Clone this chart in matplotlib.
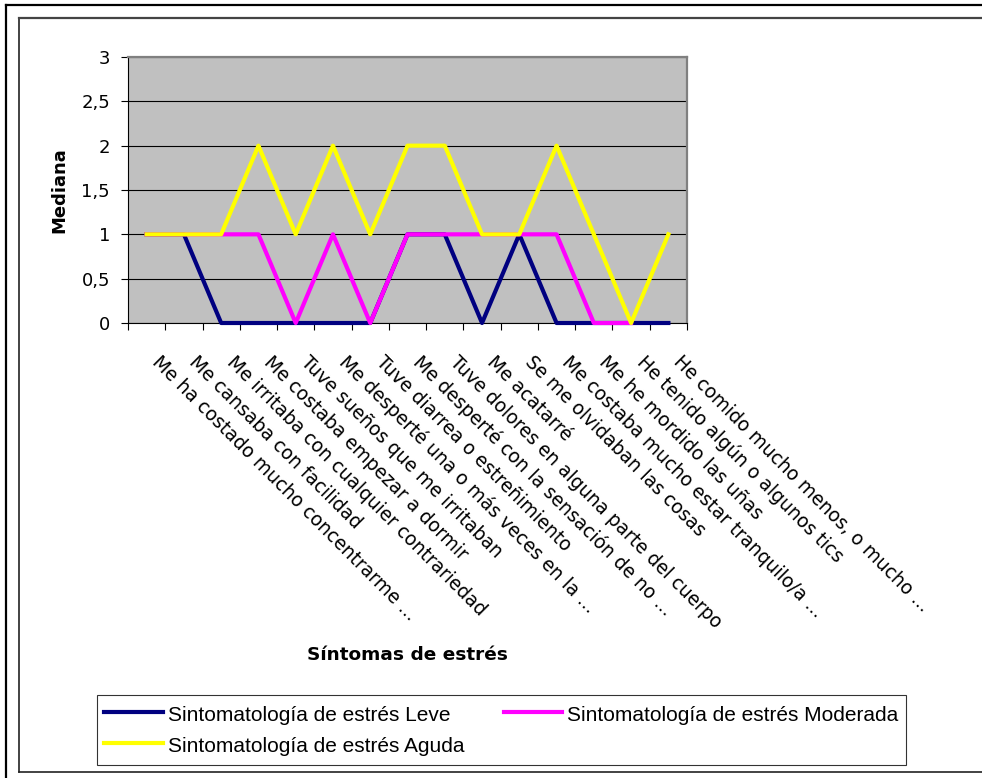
import numpy as np
import matplotlib
matplotlib.use("Agg")
import matplotlib.pyplot as plt
from matplotlib.lines import Line2D
from matplotlib import transforms

categories = [
    "Me ha costado mucho concentrarme ...",
    "Me cansaba con facilidad",
    "Me irritaba con cualquier contrariedad",
    "Me costaba empezar a dormir",
    "Tuve sueños que me irritaban",
    "Me desperté una o más veces en la ...",
    "Tuve diarrea o estreñimiento",
    "Me desperté con la sensación de no ...",
    "Tuve dolores en alguna parte del cuerpo",
    "Me acatarré",
    "Se me olvidaban las cosas",
    "Me costaba mucho estar tranquilo/a ...",
    "Me he mordido las uñas",
    "He tenido algún o algunos tics",
    "He comido mucho menos, o mucho ...",
]
leve = [1, 1, 0, 0, 0, 0, 0, 1, 1, 0, 1, 0, 0, 0, 0]
moderada = [1, 1, 1, 1, 0, 1, 0, 1, 1, 1, 1, 1, 0, 0, np.nan]
aguda = [1, 1, 1, 2, 1, 2, 1, 2, 2, 1, 1, 2, 1, 0, 1]
series_names = ["Sintomatología de estrés Leve",
                "Sintomatología de estrés Moderada",
                "Sintomatología de estrés Aguda"]
y_ticks = [0, 0.5, 1, 1.5, 2, 2.5, 3]
y_ticklabels = ["0", "0,5", "1", "1,5", "2", "2,5", "3"]

W, H = 982, 778
fig = plt.figure(figsize=(W / 100, H / 100), dpi=100)
fig.patch.set_facecolor("white")

L, T, R, B = 128, 57, 687, 323
ax = fig.add_axes([L / W, 1 - B / H, (R - L) / W, (B - T) / H])
ax.set_facecolor("#C0C0C0")

x = np.arange(len(categories))
h1, = ax.plot(x, leve, color="#000080", lw=3, clip_on=False, zorder=3)
h2, = ax.plot(x, moderada, color="#FF00FF", lw=3, clip_on=False, zorder=4)
h3, = ax.plot(x, aguda, color="#FFFF00", lw=3, clip_on=False, zorder=5)

ax.set_xlim(-0.5, len(categories) - 0.5)
ax.set_ylim(0, 3)
ax.set_yticks(y_ticks)
ax.set_yticklabels(y_ticklabels)
ax.grid(axis="y", color="black", lw=0.8, zorder=1)
ax.set_axisbelow(True)

ax.set_xticks(x)
ax.set_xticklabels([])
ax.tick_params(axis="x", which="major", length=0)
ax.set_xticks(np.arange(len(categories) + 1) - 0.5, minor=True)
ax.tick_params(axis="x", which="minor", length=5, width=0.8, direction="out", color="black")
ax.tick_params(axis="y", length=5, width=0.8, direction="out", pad=8, labelsize=13, color="black")

for s in ["top", "right"]:
    ax.spines[s].set_color("#808080")
    ax.spines[s].set_linewidth(1.6)
for s in ["left", "bottom"]:
    ax.spines[s].set_color("black")
    ax.spines[s].set_linewidth(0.8)

trans = transforms.blended_transform_factory(ax.transData, ax.transAxes)
trans = transforms.offset_copy(trans, fig=fig, x=4.4, y=-40, units="dots")
for i, lab in enumerate(categories):
    ax.text(i, 0, lab, transform=trans, rotation=-45, rotation_mode="anchor",
            ha="left", va="baseline", fontsize=13.4, color="black")

ax.set_ylabel("Mediana", fontsize=13, fontweight="bold")
ax.yaxis.set_label_coords((68 - L) / (R - L), 0.5)
fig.text((L + R) / 2 / W, 1 - 655 / H, "Síntomas de estrés", fontsize=13.3,
         fontweight="bold", ha="center", va="center")

leg = fig.legend([h1, h3, h2], [series_names[0], series_names[2], series_names[1]],
                 ncol=2, loc="upper left", bbox_to_anchor=(97 / W, 1 - 695 / H),
                 prop={"family": "Liberation Sans", "size": 15},
                 frameon=True, fancybox=False, shadow=False, borderaxespad=0,
                 borderpad=0.35, handlelength=2.8, handleheight=1.4, handletextpad=0.25,
                 columnspacing=1.9, labelspacing=0.34)
leg.get_frame().set_edgecolor("black")
leg.get_frame().set_linewidth(0.8)
for lh in leg.get_lines():
    lh.set_linewidth(3)

# chart borders
fig.add_artist(Line2D([6 / W, 6 / W], [0, 1 - 5 / H], color="black", lw=1.6))
fig.add_artist(Line2D([6 / W, 1], [1 - 5 / H, 1 - 5 / H], color="black", lw=1.6))
fig.add_artist(Line2D([19 / W, 19 / W], [1 - 772 / H, 1 - 18 / H], color="#222222", lw=1.2))
fig.add_artist(Line2D([19 / W, 1], [1 - 18 / H, 1 - 18 / H], color="#444444", lw=1.6))
fig.add_artist(Line2D([19 / W, 1], [1 - 772 / H, 1 - 772 / H], color="#222222", lw=1.2))

fig.savefig("out.png", dpi=100)
